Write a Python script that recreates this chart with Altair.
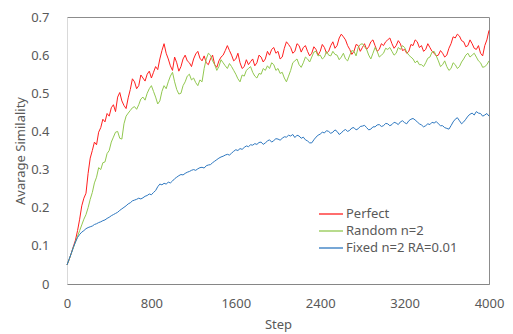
import altair as alt
import pandas as pd

steps = list(range(0, 4001, 20))

perfect = [
    0.050, 0.064, 0.080, 0.098, 0.115, 0.140, 0.170, 0.205, 0.225, 0.238,
    0.290, 0.330, 0.350, 0.372, 0.365, 0.398, 0.410, 0.432, 0.425, 0.447,
    0.440, 0.462, 0.470, 0.452, 0.490, 0.502, 0.480, 0.468, 0.460, 0.488,
    0.510, 0.538, 0.530, 0.512, 0.520, 0.548, 0.540, 0.532, 0.550, 0.558,
    0.540, 0.555, 0.570, 0.562, 0.590, 0.612, 0.630, 0.605, 0.590, 0.572,
    0.560, 0.595, 0.580, 0.558, 0.570, 0.590, 0.600, 0.585, 0.580, 0.570,
    0.590, 0.603, 0.610, 0.592, 0.585, 0.598, 0.580, 0.575, 0.590, 0.600,
    0.575, 0.568, 0.585, 0.595, 0.600, 0.612, 0.625, 0.612, 0.600, 0.585,
    0.590, 0.605, 0.580, 0.565, 0.570, 0.588, 0.575, 0.583, 0.590, 0.572,
    0.580, 0.600, 0.595, 0.582, 0.590, 0.610, 0.600, 0.615, 0.620, 0.605,
    0.610, 0.590, 0.595, 0.618, 0.635, 0.628, 0.620, 0.605, 0.610, 0.630,
    0.625, 0.608, 0.620, 0.625, 0.610, 0.598, 0.605, 0.622, 0.615, 0.600,
    0.610, 0.628, 0.620, 0.605, 0.610, 0.625, 0.635, 0.618, 0.625, 0.645,
    0.655, 0.648, 0.640, 0.625, 0.615, 0.602, 0.610, 0.628, 0.625, 0.610,
    0.620, 0.630, 0.615, 0.622, 0.635, 0.640, 0.625, 0.610, 0.615, 0.630,
    0.625, 0.635, 0.640, 0.645, 0.630, 0.618, 0.625, 0.638, 0.630, 0.612,
    0.615, 0.605, 0.610, 0.628, 0.625, 0.640, 0.635, 0.620, 0.625, 0.610,
    0.615, 0.630, 0.620, 0.610, 0.605, 0.598, 0.600, 0.612, 0.605, 0.595,
    0.600, 0.618, 0.630, 0.648, 0.645, 0.655, 0.650, 0.638, 0.635, 0.622,
    0.625, 0.640, 0.630, 0.618, 0.615, 0.625, 0.605, 0.598, 0.625, 0.640,
    0.665,
]

random_n2 = [
    0.050, 0.064, 0.080, 0.095, 0.110, 0.125, 0.140, 0.155, 0.170, 0.182,
    0.200, 0.222, 0.240, 0.265, 0.280, 0.305, 0.300, 0.318, 0.320, 0.342,
    0.350, 0.372, 0.385, 0.398, 0.400, 0.382, 0.380, 0.420, 0.440, 0.448,
    0.455, 0.462, 0.465, 0.458, 0.470, 0.485, 0.490, 0.482, 0.500, 0.512,
    0.520, 0.505, 0.490, 0.472, 0.480, 0.505, 0.520, 0.512, 0.530, 0.545,
    0.555, 0.530, 0.510, 0.498, 0.500, 0.520, 0.530, 0.545, 0.550, 0.535,
    0.540, 0.528, 0.520, 0.535, 0.530, 0.565, 0.590, 0.605, 0.600, 0.585,
    0.575, 0.560, 0.570, 0.588, 0.580, 0.572, 0.565, 0.578, 0.570, 0.560,
    0.550, 0.538, 0.530, 0.548, 0.545, 0.560, 0.565, 0.570, 0.555, 0.545,
    0.540, 0.552, 0.550, 0.565, 0.560, 0.572, 0.565, 0.580, 0.575, 0.560,
    0.565, 0.552, 0.555, 0.540, 0.530, 0.545, 0.560, 0.580, 0.585, 0.590,
    0.575, 0.568, 0.580, 0.595, 0.590, 0.582, 0.595, 0.608, 0.610, 0.598,
    0.600, 0.590, 0.595, 0.610, 0.600, 0.598, 0.610, 0.602, 0.600, 0.588,
    0.595, 0.605, 0.590, 0.585, 0.600, 0.612, 0.610, 0.598, 0.620, 0.628,
    0.630, 0.622, 0.615, 0.600, 0.590, 0.605, 0.620, 0.610, 0.595, 0.600,
    0.605, 0.618, 0.615, 0.620, 0.610, 0.600, 0.605, 0.620, 0.615, 0.625,
    0.620, 0.608, 0.600, 0.595, 0.590, 0.580, 0.585, 0.575, 0.575, 0.570,
    0.580, 0.592, 0.595, 0.608, 0.610, 0.598, 0.585, 0.570, 0.575, 0.585,
    0.570, 0.560, 0.565, 0.580, 0.575, 0.565, 0.570, 0.582, 0.590, 0.600,
    0.605, 0.595, 0.600, 0.605, 0.595, 0.585, 0.580, 0.568, 0.570, 0.575,
    0.585,
]

fixed_n2 = [
    0.050, 0.065, 0.080, 0.096, 0.110, 0.122, 0.130, 0.136, 0.140, 0.145,
    0.148, 0.150, 0.152, 0.156, 0.158, 0.161, 0.163, 0.166, 0.168, 0.172,
    0.175, 0.179, 0.182, 0.185, 0.188, 0.193, 0.197, 0.201, 0.205, 0.210,
    0.213, 0.218, 0.220, 0.222, 0.225, 0.223, 0.226, 0.230, 0.232, 0.236,
    0.234, 0.240, 0.245, 0.255, 0.262, 0.260, 0.264, 0.262, 0.267, 0.265,
    0.270, 0.276, 0.280, 0.284, 0.287, 0.286, 0.290, 0.293, 0.295, 0.298,
    0.300, 0.298, 0.302, 0.305, 0.306, 0.304, 0.310, 0.312, 0.313, 0.318,
    0.322, 0.326, 0.330, 0.333, 0.335, 0.338, 0.340, 0.338, 0.343, 0.348,
    0.352, 0.350, 0.355, 0.353, 0.358, 0.362, 0.360, 0.365, 0.364, 0.368,
    0.366, 0.371, 0.372, 0.366, 0.370, 0.375, 0.378, 0.372, 0.376, 0.381,
    0.380, 0.377, 0.382, 0.386, 0.385, 0.390, 0.388, 0.392, 0.384, 0.390,
    0.388, 0.382, 0.385, 0.378, 0.375, 0.370, 0.370, 0.378, 0.385, 0.390,
    0.393, 0.398, 0.396, 0.402, 0.400, 0.395, 0.398, 0.404, 0.400, 0.392,
    0.396, 0.402, 0.405, 0.400, 0.403, 0.409, 0.410, 0.404, 0.407, 0.413,
    0.414, 0.416, 0.410, 0.404, 0.406, 0.412, 0.412, 0.417, 0.418, 0.413,
    0.415, 0.421, 0.420, 0.415, 0.418, 0.424, 0.422, 0.418, 0.425, 0.428,
    0.423, 0.420, 0.428, 0.432, 0.434, 0.430, 0.425, 0.420, 0.417, 0.412,
    0.415, 0.420, 0.418, 0.424, 0.422, 0.426, 0.420, 0.415, 0.415, 0.410,
    0.408, 0.406, 0.415, 0.425, 0.432, 0.436, 0.428, 0.420, 0.425, 0.432,
    0.440, 0.445, 0.448, 0.443, 0.452, 0.448, 0.447, 0.440, 0.443, 0.447,
    0.440,
]

series_names = ["Perfect", "Random n=2", "Fixed n=2 RA=0.01"]
series_colors = ["#FF1F1F", "#92C850", "#2E78C0"]
x_ticks = [0, 800, 1600, 2400, 3200, 4000]
y_ticks = [0, 0.1, 0.2, 0.3, 0.4, 0.5, 0.6, 0.7]

rows = []
for k, (name, vals) in enumerate(zip(series_names, [perfect, random_n2, fixed_n2])):
    for s, v in zip(steps, vals):
        rows.append({"step": s, "value": v, "series": name, "k": k})
df = pd.DataFrame(rows)

FONT = "Noto Sans"
TXT = "#595959"

lines = (
    alt.Chart(df)
    .mark_line(strokeWidth=1)
    .encode(
        x=alt.X(
            "step:Q",
            scale=alt.Scale(domain=[0, 4000], nice=False),
            axis=alt.Axis(
                values=x_ticks, format="d", title="Step", grid=False, ticks=False,
                labelFlush=False,
                domainColor="#868686", labelPadding=13, titlePadding=8,
                labelFontSize=13, titleFontSize=13, labelColor=TXT, titleColor=TXT,
                labelFont=FONT, titleFont=FONT, titleFontWeight="normal",
            ),
        ),
        y=alt.Y(
            "value:Q",
            scale=alt.Scale(domain=[0, 0.7], nice=False),
            axis=alt.Axis(
                values=y_ticks, format=".1~f", title="Avarage Similality", grid=False, ticks=False,
                domainColor="#D9D9D9", labelPadding=18, titlePadding=3,
                labelFontSize=13, titleFontSize=13, labelColor=TXT, titleColor=TXT,
                labelFont=FONT, titleFont=FONT, titleFontWeight="normal",
            ),
        ),
        color=alt.Color(
            "series:N",
            scale=alt.Scale(domain=series_names, range=series_colors),
            legend=None,
        ),
        order=alt.Order("k:Q"),
    )
)

# legend drawn inside the plot, lower right
legend_layers = []
LX, LY, ROW = 252, 197, 17
for i, (name, col) in enumerate(zip(series_names, series_colors)):
    ldf = pd.DataFrame({"series": [name]})
    rule = alt.Chart(ldf).mark_rule(strokeWidth=1.3, color=col).encode(
        x=alt.value(LX), x2=alt.value(LX + 24), y=alt.value(LY + ROW * i)
    )
    txt = alt.Chart(ldf).mark_text(
        align="left", baseline="middle", font=FONT, fontSize=13, color=TXT
    ).encode(x=alt.value(LX + 27), y=alt.value(LY + ROW * i), text="series:N")
    legend_layers += [rule, txt]

chart = (
    alt.layer(lines, *legend_layers)
    .properties(
        width=422,
        height=267,
        autosize=alt.AutoSizeParams(type="none"),
        padding={"left": 59, "top": 9, "right": 16, "bottom": 50},
    )
    .configure_view(stroke="#8C8C8C", strokeWidth=1)
)

chart.save("out.html", embed_options={"renderer": "svg", "actions": False})
